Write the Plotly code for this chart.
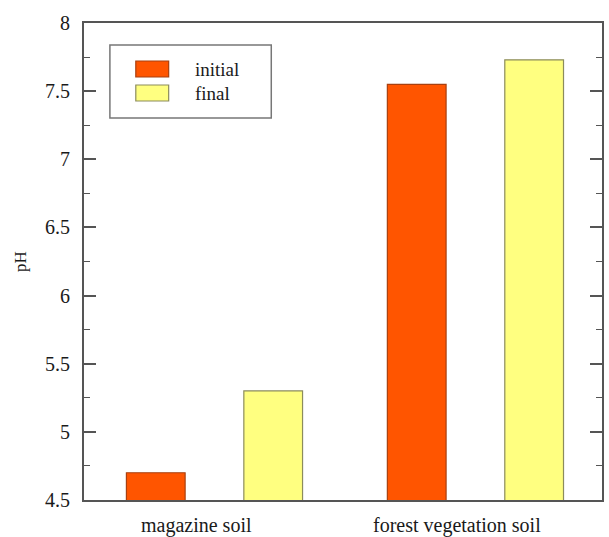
import plotly.graph_objects as go

# Soil pH before and after treatment
categories = ["magazine soil", "forest vegetation soil"]
series_names = ["initial", "final"]
initial_ph = [4.7, 7.55]
final_ph = [5.3, 7.73]
y_ticks = [4.5, 5, 5.5, 6, 6.5, 7, 7.5, 8]
y_tick_labels = ["4.5", "5", "5.5", "6", "6.5", "7", "7.5", "8"]

fill_colors = ["#FF5500", "#FFFF80"]
line_colors = ["#A84010", "#8C8C5C"]
serif = "Liberation Serif"
frame = "#555555"
ink = "#1a1a1a"

xpos = list(range(len(categories)))

fig = go.Figure()
for name, vals, fc, lc in zip(series_names, [initial_ph, final_ph], fill_colors, line_colors):
    fig.add_trace(go.Bar(
        x=xpos, y=vals, name=name, base=0,
        marker=dict(color=fc, line=dict(color=lc, width=1.2)),
        showlegend=False,
    ))

# Category labels under each group
for i, cat in enumerate(categories):
    fig.add_annotation(
        x=i - 0.07, y=0, xref="x", yref="paper", yanchor="middle",
        yshift=-25, text=cat, showarrow=False,
        font=dict(family=serif, size=20, color=ink),
    )

# Boxed legend with large swatches
fig.add_shape(type="rect", xref="paper", yref="paper",
              x0=(110 - 84) / 520, x1=(272 - 84) / 520,
              y0=(500 - 118) / 477, y1=(500 - 45) / 477,
              line=dict(color="#777777", width=1.5), fillcolor="white")
for k, (name, fc, lc) in enumerate(zip(series_names, fill_colors, line_colors)):
    top = 61 + k * 24
    fig.add_shape(type="rect", xref="paper", yref="paper",
                  x0=(136 - 84) / 520, x1=(169 - 84) / 520,
                  y0=(500 - (top + 16)) / 477, y1=(500 - top) / 477,
                  line=dict(color=lc, width=1.2), fillcolor=fc)
    fig.add_annotation(x=(193 - 84) / 520, y=(500 - (top + 8)) / 477,
                       xref="paper", yref="paper", xanchor="left", yanchor="middle",
                       text=name, showarrow=False,
                       font=dict(family=serif, size=19, color=ink))

fig.update_layout(
    width=609, height=537,
    margin=dict(l=84, r=5, t=23, b=37),
    paper_bgcolor="white", plot_bgcolor="white",
    barmode="group", bargap=0.1, bargroupgap=0.5,
    font=dict(family=serif, color=ink),
    xaxis=dict(
        range=[-0.5, 1.485], showticklabels=False, ticks="",
        showline=True, linecolor=frame, linewidth=2, mirror=True,
        showgrid=False, zeroline=False,
    ),
    yaxis=dict(
        range=[4.5, 8], tickvals=y_ticks, ticktext=y_tick_labels,
        ticks="inside", ticklen=12, tickwidth=1.5, tickcolor=frame,
        showline=True, linecolor=frame, linewidth=2, mirror="allticks",
        showgrid=False, zeroline=False, ticklabelstandoff=8,
        tickfont=dict(family=serif, size=20, color=ink),
        minor=dict(dtick=0.25, ticks="inside", ticklen=6, tickwidth=1.2, tickcolor=frame),
        title=dict(text="pH", font=dict(family=serif, size=17, color=ink), standoff=14),
    ),
)

fig.write_html("out.html")
